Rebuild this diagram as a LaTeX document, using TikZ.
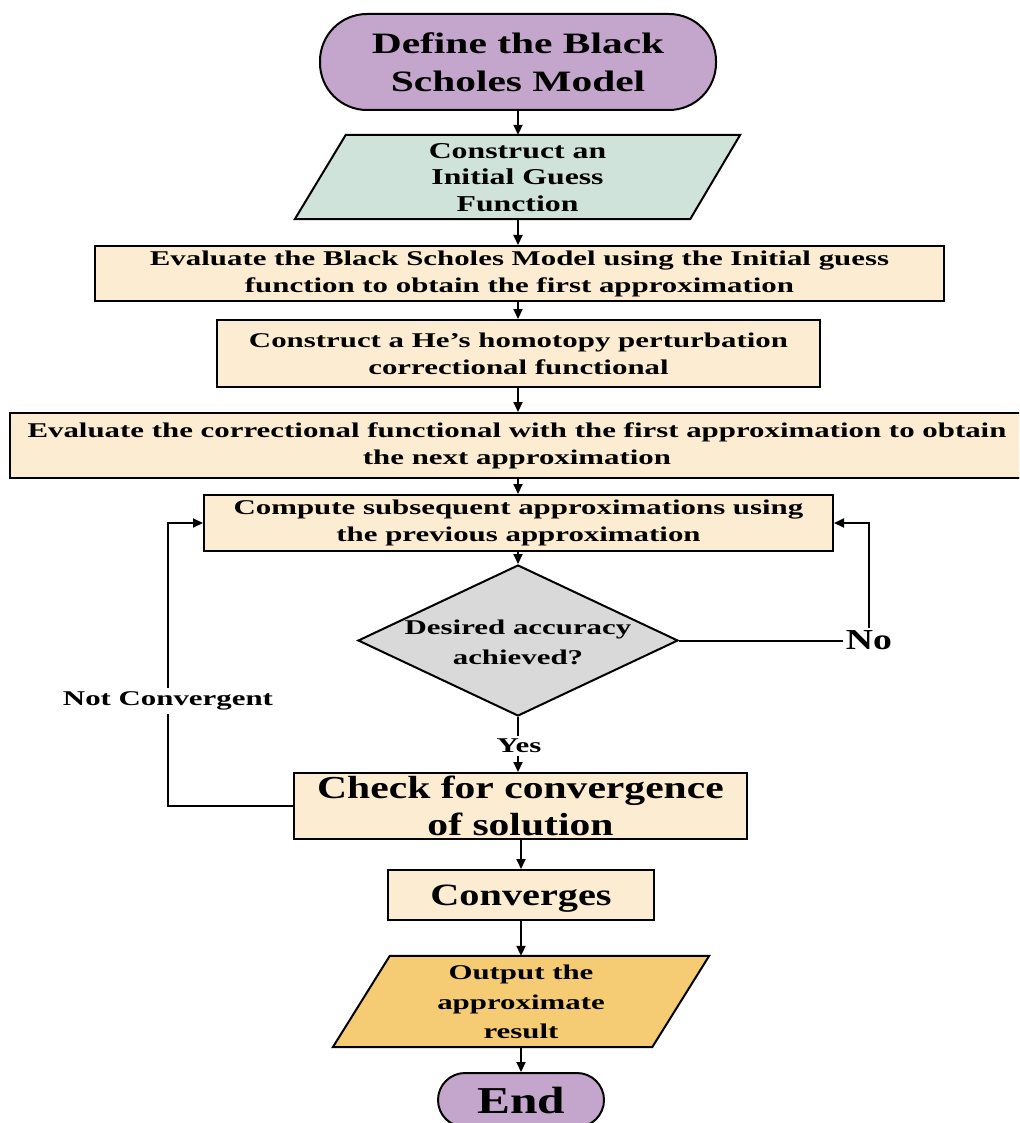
\documentclass[tikz,border=0pt]{standalone}
\usepackage{fontspec}
\setmainfont{Liberation Serif}
\newfontfamily\fsA{Liberation Serif Bold}[FakeStretch=1.47]
\newfontfamily\fsB{Liberation Serif Bold}[FakeStretch=1.40]
\newfontfamily\fsC{Liberation Serif Bold}[FakeStretch=1.30]
\usetikzlibrary{arrows.meta,shapes.geometric}
\definecolor{termpurple}{RGB}{196,165,203}
\definecolor{palegreen}{RGB}{207,227,218}
\definecolor{cream}{RGB}{252,237,210}
\definecolor{diagray}{RGB}{217,217,217}
\definecolor{gold}{RGB}{245,204,115}
\tikzset{
  box/.style={draw=black, line width=2pt, fill=cream, inner sep=0pt, align=center},
  term/.style={draw=black, line width=2pt, fill=termpurple, inner sep=0pt, align=center},
  parabox/.style={inner sep=0pt},
  parashape/.style={draw=black, line width=2pt, line join=miter},
  txt/.style={inner sep=0pt, align=center},
  arr/.style={line width=2pt, -{Triangle[length=10pt,width=9pt]}},
  ln/.style={line width=2pt},
  small/.style={font=\fsA\fontsize{21}{27}\selectfont},
}
\begin{document}
\begin{tikzpicture}[x=1pt,y=-1pt]
\useasboundingbox (0,0) rectangle (1019,1123);
\clip (0,0) rectangle (1019,1123);
\node[term, rounded corners=47pt, minimum width=396pt, minimum height=96pt, font=\fsB\fontsize{29.6}{38}\selectfont] (start) at (518,62) {Define the Black\\Scholes Model};
% parallelogram 1
\node[parabox, minimum width=445pt, minimum height=84pt] (p1) at (517.5,177) {};
\path[parashape, fill=palegreen] ([xshift=51pt]p1.north west) -- (p1.north east) -- ([xshift=-50pt]p1.south east) -- (p1.south west) -- cycle;
\node[txt, font=\fsB\fontsize{22.7}{26.5}\selectfont] (p1t) at (517.5,177.5) {Construct an\\Initial Guess\\Function};
\node[box, small, minimum width=849pt, minimum height=55pt] (b1) at (519.5,273.5) {Evaluate the Black Scholes Model using the Initial guess\\function to obtain the first approximation};
\node[box, small, minimum width=603pt, minimum height=67pt] (b2) at (518.5,353.5) {Construct a He’s homotopy perturbation\\correctional functional};
\node[box, small, minimum width=1014pt, minimum height=65pt] (b3) at (517,445.5) {Evaluate the correctional functional with the first approximation to obtain\\the next approximation};
\node[box, small, minimum width=629pt, minimum height=56pt] (b4) at (518.5,523) {Compute subsequent approximations using\\the previous approximation};
\node[diamond, draw=black, line width=2pt, fill=diagray, inner sep=0pt, minimum width=320pt, minimum height=151pt] (dia) at (518,640.5) {};
\node[txt, font=\fsA\fontsize{21}{30}\selectfont] (diat) at (518,642) {Desired accuracy\\achieved?};
\node[txt, inner sep=3pt, font=\fsC\fontsize{29}{32}\selectfont] (no) at (869,640.5) {No};
\node[txt, inner sep=3pt, small] (yes) at (519,746) {Yes};
\node[txt, inner sep=4pt, small] (nc) at (168,701) {Not Convergent};
\node[box, minimum width=453pt, minimum height=66pt, font=\fsC\fontsize{32}{37}\selectfont] (chk) at (520.5,806) {Check for convergence\\of solution};
\node[box, minimum width=266pt, minimum height=50pt, text depth=0pt, font=\fsC\fontsize{31}{36}\selectfont] (conv) at (521,895) {Converges};
% parallelogram 2
\node[parabox, minimum width=376pt, minimum height=91pt] (p2) at (521,1001.5) {};
\path[parashape, fill=gold] ([xshift=57pt]p2.north west) -- (p2.north east) -- ([xshift=-57pt]p2.south east) -- (p2.south west) -- cycle;
\node[txt, font=\fsA\fontsize{21}{29.5}\selectfont] (p2t) at (521,1002) {Output the\\approximate\\result};
\node[term, rounded corners=27pt, minimum width=166pt, minimum height=54pt, font=\fsC\fontsize{38}{42}\selectfont] (end) at (521,1100) {End};
% connectors
\draw[arr] (start.south) -- (start.south |- p1.north);
\draw[arr] (start.south |- p1.south) -- (start.south |- b1.north);
\draw[arr] (b1.south -| start.south) -- (start.south |- b2.north);
\draw[arr] (b2.south -| start.south) -- (start.south |- b3.north);
\draw[arr] (b3.south -| start.south) -- (start.south |- b4.north);
\draw[arr] (b4.south -| dia.north) -- (dia.north);
\draw[ln] (dia.south) -- (dia.south |- yes.north);
\draw[arr] (dia.south |- yes.south) -- (dia.south |- chk.north);
\draw[ln] (dia.east) -- (no.west);
\draw[arr] (no.north) |- (b4.east);
\draw[ln] (chk.west) -| (nc.south);
\draw[arr] (nc.north) |- (b4.west);
\draw[arr] (chk.south -| conv.north) -- (conv.north);
\draw[arr] (conv.south) -- (conv.south |- p2.north);
\draw[arr] (p2.south -| conv.south) -- (conv.south |- end.north);
\end{tikzpicture}
\end{document}
